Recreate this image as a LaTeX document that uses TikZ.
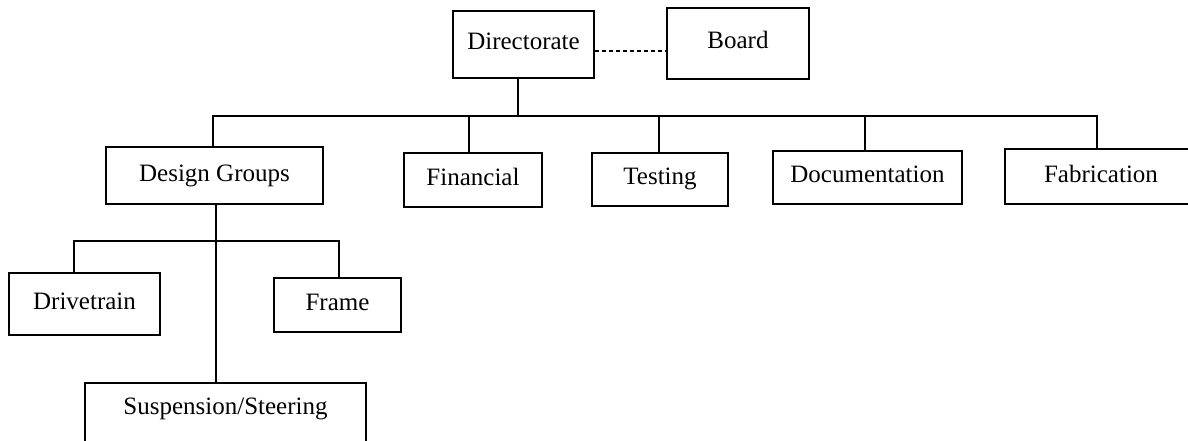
\documentclass[tikz,border=0pt]{standalone}
\usepackage{fontspec}
\setmainfont{Liberation Serif}
\begin{document}
\begin{tikzpicture}[x=1pt,y=-1pt,
  box/.style={draw, line width=2pt, inner sep=0pt, text height=17pt, text depth=6pt,
    font=\fontsize{25}{28}\selectfont},
  conn/.style={line width=2pt},
  dotline/.style={line width=2pt, dash pattern=on 4pt off 3pt}]
\useasboundingbox (0,0) rectangle (1188,441);
\clip (0,0) rectangle (1188,441);
\fill[white] (0,0) rectangle (1188,441);
% top
\node[box, minimum width=141pt, minimum height=67pt] (dir) at (523.5,44.5) {Directorate};
\node[box, minimum width=142pt, minimum height=71pt] (board) at (738,43.5) {Board};
% second level
\node[box, minimum width=217pt, minimum height=57pt] (des) at (214.5,175.7) {Design Groups};
\node[box, minimum width=138pt, minimum height=54pt] (fin) at (473,179.6) {Financial};
\node[box, minimum width=136pt, minimum height=53pt] (test) at (660,179.2) {Testing};
\node[box, minimum width=189pt, minimum height=53pt] (doc) at (867.5,177.3) {Documentation};
\node[box, minimum width=192pt, minimum height=55pt] (fab) at (1101,176.6) {Fabrication};
% third level
\node[box, minimum width=151pt, minimum height=62pt] (drive) at (84.5,304) {Drivetrain};
\node[box, minimum width=127pt, minimum height=54pt] (frame) at (337.5,305) {Frame};
\node[box, minimum width=281pt, anchor=north, inner ysep=14pt, text depth=60pt] (susp) at (225.5,382) {Suspension/Steering};
% bus levels
\coordinate (busA) at (0,115.7);
\coordinate (busB) at (0,241);
% connectors
\draw[dotline] ([yshift=-6.5pt]dir.east) -- ([yshift=-6.5pt]dir.east -| board.west);
\draw[conn] ([xshift=-5.5pt]dir.south) -- ([xshift=-5.5pt]dir.south |- busA);
\draw[conn] ([xshift=-1.5pt]des.north) -- ([xshift=-1.5pt]des.north |- busA)
  -- ([xshift=-4pt]fab.north |- busA) -- ([xshift=-4pt]fab.north);
\draw[conn] ([xshift=-4pt]fin.north) -- ([xshift=-4pt]fin.north |- busA);
\draw[conn] ([xshift=-1pt]test.north) -- ([xshift=-1pt]test.north |- busA);
\draw[conn] ([xshift=-2.5pt]doc.north) -- ([xshift=-2.5pt]doc.north |- busA);
% design subtree
\draw[conn] ([xshift=1.5pt]des.south) -- ([xshift=-9.5pt]susp.north);
\draw[conn] ([xshift=-10.5pt]drive.north) -- ([xshift=-10.5pt]drive.north |- busB)
  -- ([xshift=1.5pt]frame.north |- busB) -- ([xshift=1.5pt]frame.north);
\end{tikzpicture}
\end{document}
